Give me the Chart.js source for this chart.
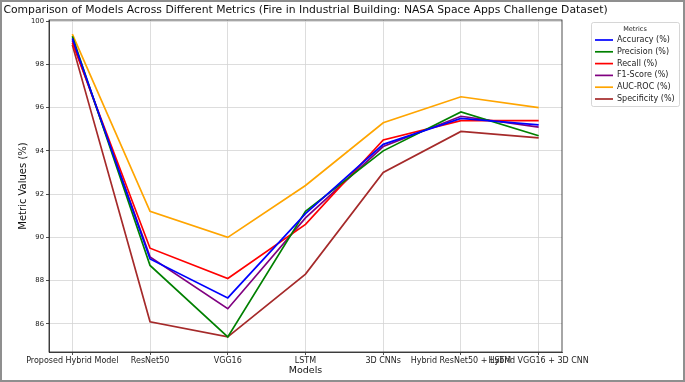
<!DOCTYPE html>
<html>
<head>
<meta charset="utf-8">
<script src="https://cdn.jsdelivr.net/npm/chart.js@4"></script>
<style>
  html, body { margin: 0; padding: 0; background: #fff; }
  #wrap { position: relative; width: 685px; height: 382px; }
</style>
</head>
<body>
<div id="wrap"><canvas id="chart"></canvas></div>
<script>
/* ─── Data ──────────────────────────────────────────────────────────────── */
const models = ['Proposed Hybrid Model', 'ResNet50', 'VGG16', 'LSTM', '3D CNNs', 'Hybrid ResNet50 + LSTM', 'Hybrid VGG16 + 3D CNN'];
const accuracy    = [99.2, 89.0, 87.2, 91.1, 94.3, 95.5, 95.2];
const precision   = [99.3, 88.7, 85.4, 91.2, 94.0, 95.8, 94.7];
const recall      = [99.0, 89.5, 88.1, 90.6, 94.5, 95.4, 95.4];
const f1Score     = [99.1, 89.1, 86.7, 90.9, 94.2, 95.6, 95.1];
const aucRoc      = [99.4, 91.2, 90.0, 92.4, 95.3, 96.5, 96.0];
const specificity = [98.9, 86.1, 85.4, 88.3, 93.0, 94.9, 94.6];
const yTicks = [86, 88, 90, 92, 94, 96, 98, 100];

const TITLE = 'Comparison of Models Across Different Metrics (Fire in Industrial Building: NASA Space Apps Challenge Dataset)';
const FONT = 'DejaVu Sans';

function series(label, values, colour) {
  return {
    label,
    data: values.map((v, i) => ({ x: i, y: v })),
    borderColor: colour,
    backgroundColor: colour,
    borderWidth: 1.7,
    pointRadius: 0,
    fill: false,
    tension: 0
  };
}

/* ─── Title, spines, legend box and frame ───────────────────────────────── */
const decor = {
  id: 'decor',
  afterDraw(chart) {
    const { ctx, chartArea: a } = chart;
    ctx.save();
    // title, centred over the axes
    ctx.fillStyle = '#111';
    ctx.font = `10.8px "${FONT}"`;
    ctx.textAlign = 'center';
    ctx.textBaseline = 'middle';
    ctx.fillText(TITLE, (a.left + a.right) / 2, 10.5);

    // axes box (top/right spines)
    ctx.strokeStyle = '#222';
    ctx.lineWidth = 0.8;
    ctx.strokeRect(a.left, a.top, a.right - a.left, a.bottom - a.top);

    // legend
    const lx = 591, ly = 22, lw = 88, lh = 84;
    ctx.strokeStyle = '#cccccc';
    ctx.lineWidth = 0.8;
    ctx.beginPath();
    ctx.roundRect(lx + 0.5, ly + 0.5, lw, lh, 2);
    ctx.fillStyle = 'rgba(255,255,255,0.8)';
    ctx.fill();
    ctx.stroke();
    ctx.fillStyle = '#222';
    ctx.font = `6.5px "${FONT}"`;
    ctx.fillText('Metrics', 635, 29);
    ctx.textAlign = 'left';
    ctx.font = `8px "${FONT}"`;
    chart.data.datasets.forEach((ds, i) => {
      const y = 40 + i * 11.8;
      ctx.strokeStyle = ds.borderColor;
      ctx.lineWidth = 1.7;
      ctx.beginPath();
      ctx.moveTo(595, y);
      ctx.lineTo(613, y);
      ctx.stroke();
      ctx.fillStyle = '#222';
      ctx.fillText(ds.label, 617, y);
    });

    // outer image frame
    ctx.strokeStyle = '#8f8f8f';
    ctx.lineWidth = 2;
    ctx.strokeRect(1, 1, chart.width - 2, chart.height - 2);
    ctx.restore();
  }
};

/* ─── Chart ─────────────────────────────────────────────────────────────── */
new Chart(document.getElementById('chart'), {
  type: 'line',
  data: {
    datasets: [
      series('Accuracy (%)', accuracy, '#0000ff'),
      series('Precision (%)', precision, '#008000'),
      series('Recall (%)', recall, '#ff0000'),
      series('F1-Score (%)', f1Score, '#800080'),
      series('AUC-ROC (%)', aucRoc, '#ffa500'),
      series('Specificity (%)', specificity, '#a52a2a')
    ]
  },
  options: {
    responsive: true,
    maintainAspectRatio: false,
    animation: false,
    layout: { padding: { left: 0, right: 123, top: 20, bottom: 6 } },
    plugins: {
      legend: { display: false },
      tooltip: { enabled: false },
      title: { display: false }
    },
    scales: {
      x: {
        type: 'linear',
        min: -0.3,
        max: 6.3,
        afterBuildTicks: s => { s.ticks = models.map((_, i) => ({ value: i })); },
        afterFit: s => { s.height = 24; },
        ticks: {
          autoSkip: false,
          maxRotation: 0,
          minRotation: 0,
          padding: 1,
          color: '#222',
          font: { family: FONT, size: 8 },
          callback: v => models[v]
        },
        grid: { color: '#d4d4d4', lineWidth: 0.8, tickLength: 3, tickColor: '#222' },
        border: { color: '#222', width: 0.8 },
        title: {
          display: true,
          text: 'Models',
          color: '#111',
          font: { family: FONT, size: 9.5 },
          padding: { top: 0, bottom: 0 }
        }
      },
      y: {
        min: 84.7,
        max: 100.05,
        afterBuildTicks: s => { s.ticks = yTicks.map(v => ({ value: v })); },
        afterFit: s => { s.width = 49; },
        ticks: {
          padding: 2,
          color: '#222',
          font: { family: FONT, size: 6.8 }
        },
        grid: { color: '#d4d4d4', lineWidth: 0.8, tickLength: 3, tickColor: '#222' },
        border: { color: '#222', width: 0.8 },
        title: {
          display: true,
          text: 'Metric Values (%)',
          color: '#111',
          font: { family: FONT, size: 10 },
          padding: { top: 17, bottom: 0 }
        }
      }
    }
  },
  plugins: [decor]
});
</script>
</body>
</html>
